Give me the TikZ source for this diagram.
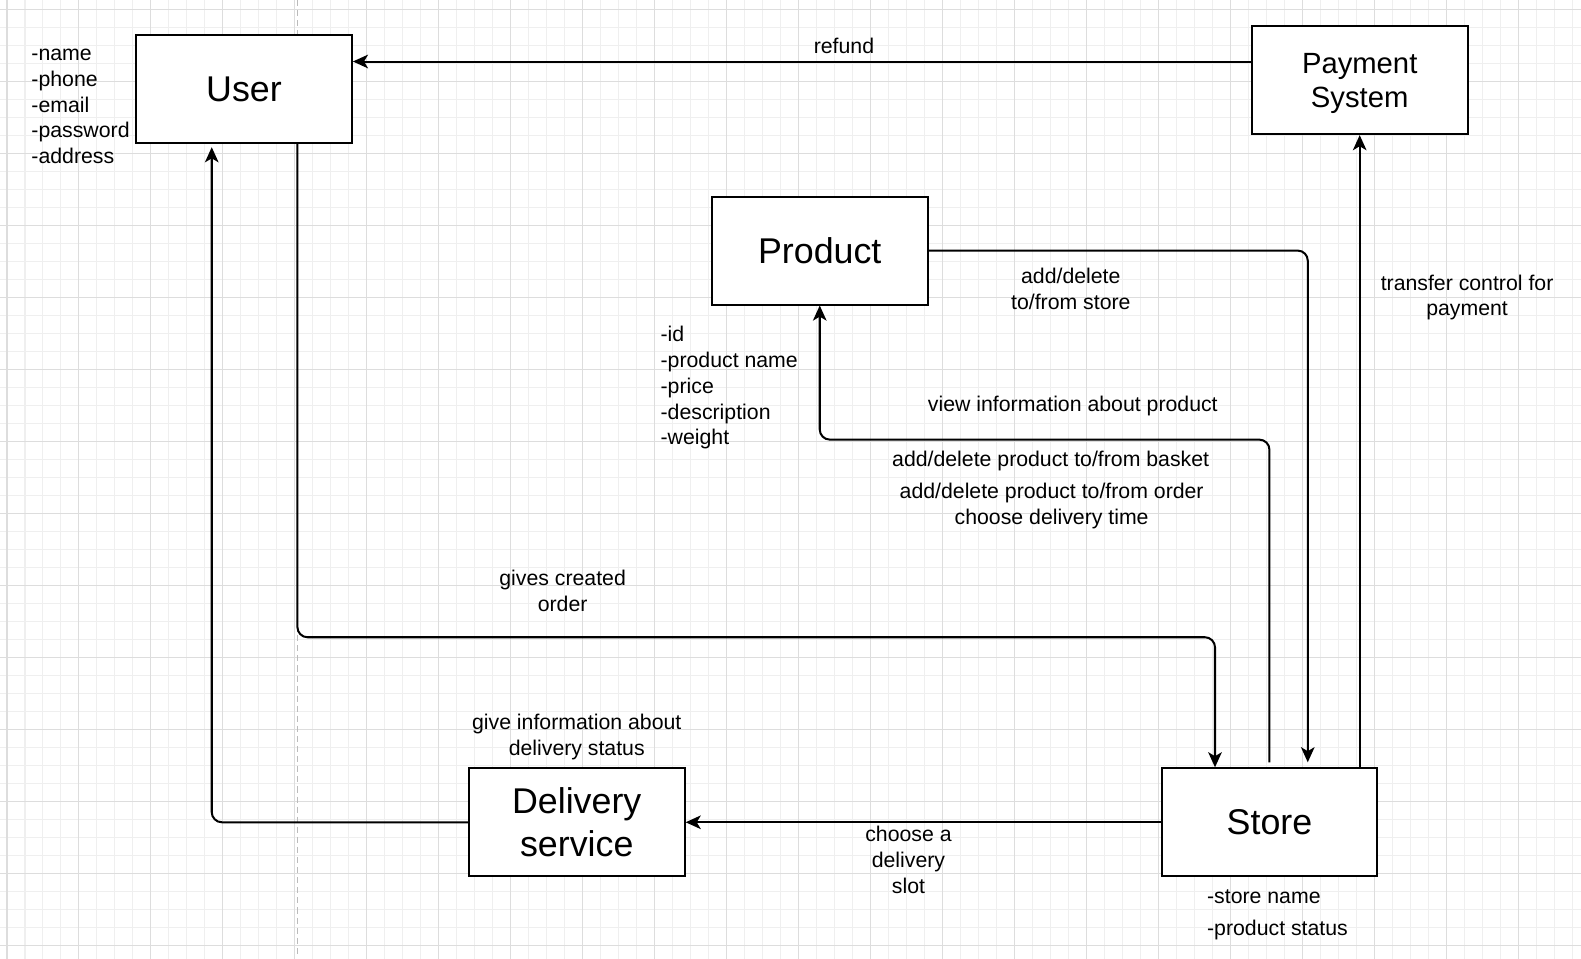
\documentclass[tikz,border=0pt]{standalone}
\usepackage{fontspec}
\setmainfont{Liberation Sans}
\usetikzlibrary{arrows.meta}
\definecolor{gridminor}{HTML}{EFEFEF}
\definecolor{gridmajor}{HTML}{DDDDDD}
\definecolor{guide}{HTML}{BBBBBB}
\begin{document}
\begin{tikzpicture}[x=1pt,y=-1pt,
  box/.style={draw,line width=2pt,fill=white,minimum width=214pt,minimum height=107pt,inner sep=0pt,align=center,font=\fontsize{35.5}{42}\selectfont},
  lbl/.style={align=center,inner sep=0pt,font=\fontsize{21.1}{25.6}\selectfont},
  attr/.style={align=left,inner sep=0pt,anchor=west,font=\fontsize{21.1}{25.6}\selectfont},
  conn/.style={line width=2pt,rounded corners=10pt,-{Stealth[length=15pt,width=13.5pt,inset=4pt]}}]
\useasboundingbox (0,0) rectangle (1568,951);
\fill[white] (0,0) rectangle (1568,951);
% grid
\foreach \k in {0,...,87} \draw[gridminor,line width=1pt] ({6.94+\k*17.85},0) -- ({6.94+\k*17.85},951);
\foreach \k in {0,...,52} \draw[gridminor,line width=1pt] (0,{9.9+\k*17.85}) -- (1568,{9.9+\k*17.85});
\foreach \k in {0,...,21} \draw[gridmajor,line width=1pt] ({6.94+\k*71.4},0) -- ({6.94+\k*71.4},951);
\foreach \k in {0,...,13} \draw[gridmajor,line width=1pt] (0,{9.9+\k*71.4}) -- (1568,{9.9+\k*71.4});
% dashed guide
\draw[guide,line width=1.5pt,dash pattern=on 6pt off 4pt] (295,0) -- (295,947);

% boxes
\node[box] (user) at (242,88.5) {User};
\node[box] (pay) at (1348.5,79.5) {};
\node[align=center,inner sep=0pt,font=\fontsize{29}{34}\selectfont] (paytext) at (1348.5,82.5) {Payment\\System};
\node[box] (prod) at (813,248.5) {Product};
\node[box] (deliv) at (572,815.5) {Delivery\\service};
\node[box] (store) at (1259,815.5) {Store};

% connectors
\draw[conn] ([yshift=18.5pt]pay.west) -- ([yshift=27.5pt]user.east);
\draw[conn] ([xshift=53pt]user.south) -- (295,632) -| ([xshift=-54pt]store.north);
\draw[conn,shorten >=3pt] (deliv.west) -| ([xshift=-32pt]user.south);
\draw[conn] (store.west) -- (deliv.east);
\draw[conn] ([yshift=5pt]store.north) -- (1259,436) -| (prod.south);
\draw[conn] (prod.east) -| ([xshift=38pt,yshift=5pt]store.north);
\draw[conn] ([xshift=89.5pt]store.north) -- (pay.south);

% labels
\node[lbl] (lrefund) at (837,45.5) {refund};
\node[lbl] (lgives) at (558,586) {gives created\\order};
\node[lbl] (lgiveinfo) at (572,731) {give information about\\delivery status};
\node[lbl] (lslot) at (901,853) {choose a\\delivery\\slot};
\node[lbl] (lstoreadd) at (1062,286.5) {add/delete\\to/from store};
\node[lbl] (lview) at (1064,403) {view information about product};
\node[lbl] (lbasket) at (1042,457) {add/delete product to/from basket};
\node[lbl] (lorder) at (1043,501.5) {add/delete product to/from order\\choose delivery time};
\node[lbl] (ltransfer) at (1455,295) {transfer control for\\payment};

% attributes
\node[attr] (uattr) at (31,105.5) {-name\\-phone\\-email\\-password\\-address};
\node[attr] (pattr) at (655,384.5) {-id\\-product name\\-price\\-description\\-weight};
\node[attr] (sattr1) at (1197,889) {-store name};
\node[attr] (sattr2) at (1197,922) {-product status};
\end{tikzpicture}
\end{document}
